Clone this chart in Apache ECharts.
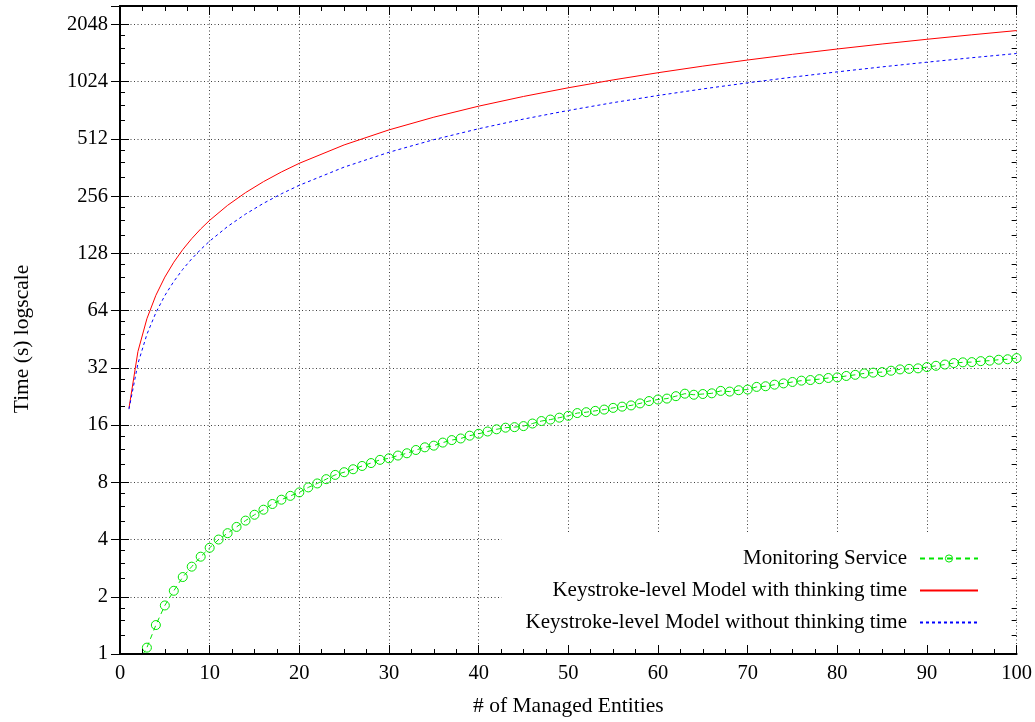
<!DOCTYPE html>
<html><head><meta charset="utf-8">
<script src="https://cdn.jsdelivr.net/npm/echarts@6/dist/echarts.min.js"></script>
<style>html,body{margin:0;padding:0;background:#fff}#c{width:1035px;height:722px}</style>
</head><body><div id="c"></div>
<script>
// ---- data ----
const xTickValues = [0, 10, 20, 30, 40, 50, 60, 70, 80, 90, 100];
const yTickValues = [1, 2, 4, 8, 16, 32, 64, 128, 256, 512, 1024, 2048];
const seriesNames = ['Monitoring Service', 'Keystroke-level Model with thinking time', 'Keystroke-level Model without thinking time'];

const monX = [2,3,4,5,6,7,8,9,10,11,12,13,14,15,16,17,18,19,20,21,22,23,24,25,26,27,28,29,30,
  31,32,33,34,35,36,37,38,39,40,41,42,43,44,45,46,47,48,49,50,51,52,53,54,55,56,57,58,59,60,
  61,62,63,64,65,66,67,68,69,70,71,72,73,74,75,76,77,78,79,80,81,82,83,84,85,86,87,88,89,90,
  91,92,93,94,95,96,97,98,99,100];
const monY = [0.9,1.08,1.42,1.80,2.15,2.54,2.88,3.25,3.62,4.0,4.32,4.66,5.03,5.40,5.74,6.15,6.48,6.79,7.08,
  7.52,7.89,8.31,8.75,9.04,9.37,9.75,10.1,10.5,10.7,11.06,11.37,11.83,12.22,12.47,12.94,13.34,13.6,14.07,14.4,
  14.8,15.2,15.5,15.6,15.8,16.3,16.8,17.1,17.5,17.9,18.5,18.7,19.0,19.3,19.7,20.0,20.3,20.8,21.4,21.8,
  22.05,22.7,23.4,23.1,23.3,23.5,24.2,24.0,24.4,24.6,25.4,25.6,26.1,26.5,26.96,27.4,27.6,27.9,28.3,28.5,
  29.0,29.4,29.9,30.2,30.4,30.9,31.4,31.6,31.8,32.3,32.8,33.3,33.9,34.2,34.3,34.7,34.9,35.3,35.5,36.0];

const klmX = [1,2,3,4,5,6,7,8,9,10,12,14,16,18,20,25,30,35,40,45,50,55,60,65,70,75,80,85,90,95,100];
const klmWith = [19.6,39,58,77,96,115,134,153,172,191,229,267,305,343,381,476,571,666,761,856,951,1046,1141,1236,1331,1426,1521,1616,1711,1806,1901];
const klmWithout = [19.4,33.7,48,62.4,76.8,91.1,105.5,119.8,134.2,148.5,177.2,205.9,234.6,263.3,292,363.8,435.5,507.3,579,650.8,722.5,794.3,866,937.8,1009.5,1081.3,1153,1224.8,1296.5,1368.3,1440];

// ---- chart ----
const FONT = "'Liberation Serif', 'Times New Roman', serif";
const Y_MAX = 2560;
const Y_MIN = 1;
const LOG_MAX = Math.log2(Y_MAX);
const minorLog = [];
yTickValues.forEach(p => [1.25, 1.5, 1.75].forEach(f => minorLog.push(Math.log2(p * f))));
minorLog.push(Math.log2(2048 * 1.25));

const GREEN = '#00e600', RED = '#ff0000', BLUE = '#0000ff';
const black = '#000';
const gridLine = { show: true, lineStyle: { color: '#000', width: 1, type: [1, 2.5], opacity: 0.75 } };
const off = { show: false };

const xBase = { type: 'value', min: xTickValues[0], max: xTickValues[xTickValues.length - 1], interval: 10, gridIndex: 0 };
const yBase = { type: 'log', logBase: 2, min: Y_MIN, max: Y_MAX, interval: 1, gridIndex: 0 };

const chart = echarts.init(document.getElementById('c'), null, { renderer: 'canvas' });
chart.setOption({
  animation: false,
  backgroundColor: '#fff',
  grid: { left: 120, right: 18, top: 6, bottom: 65, containLabel: false },
  legend: {
    data: [
      { name: seriesNames[0], itemStyle: { color: 'rgba(0,0,0,0)', borderColor: GREEN, borderWidth: 1 } },
      { name: seriesNames[1], itemStyle: { color: 'rgba(0,0,0,0)', borderWidth: 0, opacity: 0 } },
      { name: seriesNames[2], itemStyle: { color: 'rgba(0,0,0,0)', borderWidth: 0, opacity: 0 } }
    ],
    orient: 'vertical', align: 'right',
    right: 19, top: 534,
    itemWidth: 58, itemHeight: 9, itemGap: 11,
    padding: [14, 37, 24, 24],
    backgroundColor: '#fff',
    selectedMode: false,
    textStyle: { fontFamily: FONT, fontSize: 21, color: black, lineHeight: 21, padding: [0, 8, 0, 0] }
  },
  xAxis: [
    Object.assign({}, xBase, {
      position: 'bottom', z: 5,
      axisLine: { show: true, lineStyle: { color: black, width: 2 } },
      axisTick: { show: true, inside: true, length: 9, lineStyle: { color: black, width: 1 } },
      minorTick: { show: true, splitNumber: 4, length: 5, lineStyle: { color: black, width: 1 } },
      axisLabel: { show: true, margin: 9, color: black, fontFamily: FONT, fontSize: 20.5 },
      splitLine: off,
      name: '# of Managed Entities', nameLocation: 'middle', nameGap: 41,
      nameTextStyle: { fontFamily: FONT, fontSize: 21.5, color: black }
    }),
    Object.assign({}, xBase, {
      position: 'bottom', z: 0,
      axisLine: off, axisTick: off, axisLabel: off, splitLine: gridLine
    }),
    Object.assign({}, xBase, {
      position: 'top', z: 5,
      axisLine: { show: true, lineStyle: { color: black, width: 2 } },
      axisTick: { show: true, inside: true, length: 9, lineStyle: { color: black, width: 1 } },
      minorTick: { show: true, splitNumber: 4, length: 5, lineStyle: { color: black, width: 1 } },
      axisLabel: off, splitLine: off
    })
  ],
  yAxis: [
    Object.assign({}, yBase, {
      position: 'left', z: 5,
      axisLine: { show: true, lineStyle: { color: black, width: 2 } },
      axisTick: { show: true, inside: true, length: 9, lineStyle: { color: black, width: 1 } },
      axisLabel: { show: true, margin: 12, color: black, fontFamily: FONT, fontSize: 20.5, showMaxLabel: false,
        formatter: v => String(Math.round(v)) },
      splitLine: off,
      name: 'Time (s) logscale', nameLocation: 'middle', nameGap: 87,
      nameTextStyle: { fontFamily: FONT, fontSize: 21.5, color: black, padding: [0, 18, 0, 0] }
    }),
    Object.assign({}, yBase, {
      position: 'left', z: 0,
      axisLine: off, axisTick: off, axisLabel: off, splitLine: gridLine
    }),
    Object.assign({}, yBase, {
      position: 'right', z: 5,
      axisLine: { show: true, lineStyle: { color: black, width: 2 } },
      axisTick: { show: true, inside: true, length: 9, lineStyle: { color: black, width: 1 } },
      axisLabel: off, splitLine: off
    }),
    {
      type: 'value', min: 0, max: LOG_MAX, position: 'left', z: 5, gridIndex: 0,
      axisLine: off, axisLabel: off, splitLine: off,
      axisTick: { show: true, inside: true, length: 5, customValues: minorLog, lineStyle: { color: black, width: 1 } }
    },
    {
      type: 'value', min: 0, max: LOG_MAX, position: 'right', z: 5, gridIndex: 0,
      axisLine: off, axisLabel: off, splitLine: off,
      axisTick: { show: true, inside: true, length: 5, customValues: minorLog, lineStyle: { color: black, width: 1 } }
    }
  ],
  series: [
    {
      name: seriesNames[0], type: 'line', xAxisIndex: 0, yAxisIndex: 0, clip: true,
      data: monX.map((x, i) => [x, monY[i]]),
      symbol: 'circle', symbolSize: 9, showSymbol: true,
      itemStyle: { color: 'rgba(0,0,0,0)', borderColor: GREEN, borderWidth: 1 },
      lineStyle: { color: GREEN, width: 1, type: [5, 4] },
      z: 3
    },
    {
      name: seriesNames[1], type: 'line', xAxisIndex: 0, yAxisIndex: 0, clip: true,
      data: klmX.map((x, i) => [x, klmWith[i]]),
      symbol: 'none', itemStyle: { color: RED },
      lineStyle: { color: RED, width: 1 }
    },
    {
      name: seriesNames[2], type: 'line', xAxisIndex: 0, yAxisIndex: 0, clip: true,
      data: klmX.map((x, i) => [x, klmWithout[i]]),
      symbol: 'none', itemStyle: { color: BLUE },
      lineStyle: { color: BLUE, width: 1, type: [3, 3] }
    }
  ]
});
</script>
</body></html>
